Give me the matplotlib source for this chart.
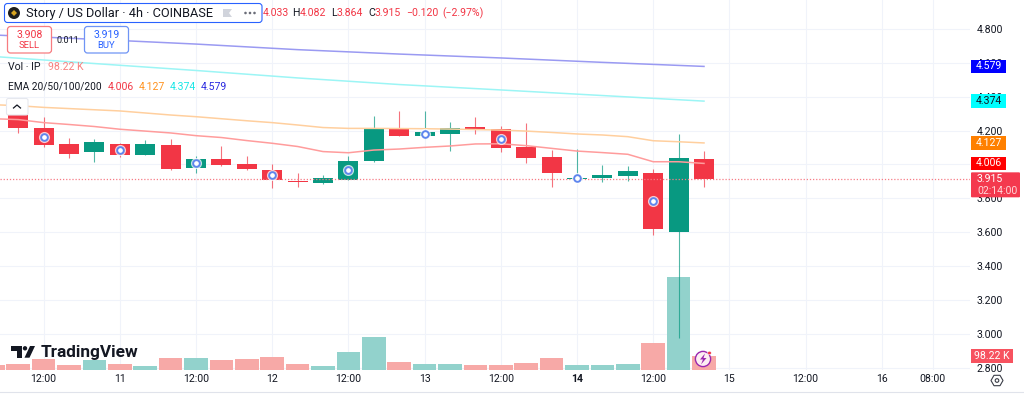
import matplotlib
matplotlib.use('Agg')
import matplotlib.pyplot as plt
from matplotlib.patches import FancyBboxPatch, Rectangle, Polygon, Circle, RegularPolygon

plt.rcParams['font.family'] = ['Roboto', 'DejaVu Sans']

#----- data
idx = list(range(28))
opens = [4.292, 4.215, 4.119, 4.072, 4.122, 4.057, 4.113, 3.981, 4.032, 4.003, 3.969, 3.902, 3.890, 3.908,
         4.022, 4.209, 4.168, 4.182, 4.219, 4.208, 4.103, 4.046, 3.916, 3.918, 3.932, 3.949, 3.601, 4.033]
highs = [4.322, 4.280, 4.156, 4.152, 4.124, 4.143, 4.150, 4.050, 4.109, 4.050, 4.003, 3.949, 3.939, 4.052,
         4.286, 4.316, 4.316, 4.251, 4.280, 4.227, 4.247, 4.083, 4.093, 3.998, 3.993, 3.973, 4.180, 4.082]
lows = [4.187, 4.105, 4.038, 4.016, 4.042, 4.057, 3.965, 3.951, 3.993, 3.965, 3.861, 3.865, 3.883, 3.906,
        4.016, 4.168, 4.148, 4.081, 4.182, 4.072, 4.010, 3.868, 3.916, 3.898, 3.904, 3.581, 2.975, 3.864]
closes = [4.213, 4.115, 4.062, 4.133, 4.057, 4.119, 3.971, 4.032, 3.998, 3.971, 3.908, 3.894, 3.922, 4.022,
          4.213, 4.168, 4.190, 4.213, 4.205, 4.095, 4.038, 3.951, 3.922, 3.936, 3.959, 3.617, 4.036, 3.915]

vol_idx = list(range(-1, 28))
volumes = [29, 41, 74, 34, 70, 41, 22, 81, 81, 70, 74, 93, 36, 22, 122, 232, 57,
           41, 41, 34, 34, 45, 81, 34, 29, 36, 191, 660, 98.22]
vol_up = [False, False, False, False, True, False, True, False, True, False, False, False, False, True,
          True, True, False, True, True, False, False, False, False, True, True, True, False, True, False]

ema20_idx = list(range(-1, 28))
ema20 = [4.270, 4.265, 4.247, 4.236, 4.224, 4.208, 4.197, 4.186, 4.170, 4.159, 4.141, 4.125, 4.106, 4.076, 4.069,
         4.085, 4.091, 4.101, 4.109, 4.121, 4.122, 4.111, 4.095, 4.079, 4.070, 4.060, 4.016, 4.016, 4.006]
ema50 = [4.353, 4.347, 4.337, 4.330, 4.323, 4.316, 4.304, 4.292, 4.282, 4.270, 4.258, 4.247, 4.233, 4.218, 4.213,
         4.213, 4.212, 4.211, 4.209, 4.206, 4.203, 4.197, 4.189, 4.180, 4.174, 4.164, 4.140, 4.134, 4.127]
slow_idx = [-1, 3, 7, 11, 15, 19, 23, 27]
ema100 = [4.638, 4.596, 4.555, 4.511, 4.472, 4.440, 4.407, 4.374]
ema200 = [4.765, 4.739, 4.711, 4.678, 4.652, 4.629, 4.603, 4.579]

event_idx = [1, 4, 7, 10, 13, 16, 19, 22, 25]
event_price = [4.164, 4.087, 4.007, 3.938, 3.969, 4.180, 4.150, 3.920, 3.786]

price_ticks = [2.8, 3.0, 3.2, 3.4, 3.6, 3.8, 4.0, 4.2, 4.4, 4.6, 4.8]
time_ticks = [1, 4, 7, 10, 13, 16, 19, 22, 25, 28, 31, 34, 36]
time_labels = ['12:00', '11', '12:00', '12', '12:00', '13', '12:00', '14', '12:00', '15', '12:00', '16', '08:00']

last_price = 3.915
ema_last = [4.579, 4.374, 4.127, 4.006]

RED = '#f23645'
GREEN = '#089981'
TXT = '#131722'
W, H = 1024, 396
XLIM = (-18.2/25.4, (970-18.2)/25.4)
YLIM = (4.8-340.5/169.3, 4.8+29/169.3)

fig = plt.figure(figsize=(W/100, H/100), dpi=100, facecolor='white')
pos = [0, (H-369.5)/H, 970/W, 369.5/H]

#----- grid on its own axes, under the volume
ax_bg = fig.add_axes(pos, zorder=0)
ax_bg.set_xlim(XLIM)
ax_bg.set_ylim(YLIM)
ax_bg.set_yticks(price_ticks)
ax_bg.set_xticks(time_ticks)
ax_bg.tick_params(length=0, labelleft=False, labelbottom=False)
ax_bg.grid(color='#f0f3fa', lw=0.8)
for s in ax_bg.spines.values():
    s.set_visible(False)

#----- volume
ax_vol = fig.add_axes(pos, zorder=1)
ax_vol.bar(vol_idx, volumes, width=0.93, color=['#92d2cc' if u else '#f7a9a7' for u in vol_up])
ax_vol.set_xlim(XLIM)
ax_vol.set_ylim(0, 2649)
ax_vol.axis('off')

#----- candles
ax = fig.add_axes(pos, zorder=2)
ax.patch.set_visible(False)
for i, o, h, l, c in zip(idx, opens, highs, lows, closes):
    col = GREEN if c >= o else RED
    ax.vlines(i, l, h, color=col, lw=0.8, alpha=0.7, zorder=3)
    ax.bar(i, abs(c-o), bottom=min(o, c), width=0.79, color=col, zorder=4)

ax.plot(ema20_idx, ema20, color='#ff9c9c', lw=1.1, zorder=5)
ax.plot(ema20_idx, ema50, color='#ffcf9e', lw=1.1, zorder=5)
ax.plot(slow_idx, ema100, color='#9cf5f5', lw=1.1, zorder=5)
ax.plot(slow_idx, ema200, color='#9a9af2', lw=1.1, zorder=5)
ax.axhline(last_price, color='#f77c86', lw=0.9, ls=(0, (1, 1.5)), zorder=5)

ax.plot(event_idx, event_price, 'o', ms=8, mfc='white', mec='none', alpha=0.75, zorder=6)
ax.plot(event_idx, event_price, 'o', ms=4.8, mfc='white', mec='#5f86ee', mew=1.4, zorder=7)

ax.set_xlim(XLIM)
ax.set_ylim(YLIM)
ax.yaxis.tick_right()
ax.set_yticks(price_ticks, ['%.3f' % p for p in price_ticks])
ax.set_xticks(time_ticks, time_labels)
ax.tick_params(length=0, labelsize=7.6, labelcolor=TXT)
ax.tick_params(axis='y', pad=5)
ax.tick_params(axis='x', pad=3.5)
ax.get_xticklabels()[7].set_fontweight('bold')
for s in ax.spines.values():
    s.set_visible(False)

#----- overlay in screen pixels for the TradingView furniture
ov = fig.add_axes([0, 0, 1, 1], zorder=3)
ov.set_xlim(0, W)
ov.set_ylim(H, 0)
ov.axis('off')

def price_y(p):
    return H - ax.transData.transform((0, p))[1]

def box(x0, y0, x1, y1, fc='white', ec='none', lw=1, r=2):
    ov.add_patch(FancyBboxPatch((x0, y0), x1-x0, y1-y0, boxstyle='round,pad=0,rounding_size=%g' % r,
                                fc=fc, ec=ec, lw=lw))

def label(x, y, s, color=TXT, size=7.6, ha='left', **kw):
    ov.text(x, y, s, color=color, fontsize=size, ha=ha, va='center', **kw)

ov.plot([0, W], [392, 392], color='#e0e3eb', lw=0.8)

# header
ohlc_bits = [(263, '4.033', RED), (292, 'H', TXT), (300, '4.082', RED), (331, 'L', TXT), (337, '3.864', RED),
             (368, 'C', TXT), (375, '3.915', RED), (406, '−0.120', RED), (442, '(−2.97%)', RED)]
for x, s, c in ohlc_bits:
    label(x, 13, s, color=c)
box(4.5, 3.5, 262, 22.5, ec='#2962ff', lw=0.8, r=3)
ov.add_patch(Circle((14, 13), 6, fc='#1e1e1e', ec='none'))
ov.add_patch(RegularPolygon((14, 13), 4, radius=3, fc='#d9a520', ec='none'))
label(26, 13, 'Story / US Dollar · 4h · COINBASE', size=9.15)
ov.add_patch(Polygon([(223, 9), (232, 9), (229, 13), (232, 17), (223, 17)], fc='#d1d4dc', ec='none'))
for x in (245.5, 250, 254.5):
    ov.add_patch(Circle((x, 13), 1.3, fc='#6a6d78', ec='none'))

# sell / buy
box(7.5, 26.5, 51.5, 53, ec='#f77c80', lw=0.9, r=3)
label(29.5, 34.5, '3.908', color=RED, ha='center')
label(29.5, 46, 'SELL', color=RED, size=6.8, ha='center')
label(68, 40.5, '0.011', size=6.5, ha='center')
box(84.5, 26.5, 128.5, 53, ec='#6f94f5', lw=0.9, r=3)
label(106.5, 34.5, '3.919', color='#2962ff', ha='center')
label(106.5, 46, 'BUY', color='#2962ff', size=6.8, ha='center')

# study legends
label(8, 67, 'Vol · IP')
label(48, 67, '98.22 K', color='#f7817f')
label(8, 86.5, 'EMA 20/50/100/200', size=7.3)
for x, s, c in [(108, '4.006', RED), (139, '4.127', '#ff9320'), (170, '4.374', '#19e6e6'), (201, '4.579', '#2a2ae0')]:
    label(x, 86.5, s, color=c)

# collapse button
box(6.5, 98.5, 28, 115, ec='#e6e8ee', lw=0.8, r=2)
ov.plot([13.5, 17, 20.5], [108, 105, 108], color=TXT, lw=0.9)

# price tags: the 4.600 and 4.400 tick labels stay visible just above their tags, as in the reference
tag_styles = [('#0000ff', 'white'), ('#00ffff', TXT), ('#ff8000', 'white'), ('#ff0000', 'white')]
for p, (fc, tc) in zip(ema_last, tag_styles):
    y = price_y(p)
    ov.add_patch(Rectangle((971, y-6.8), 35, 13.6, fc=fc, ec='none'))
    label(988.5, y, '%.3f' % p, color=tc, ha='center')
y = price_y(last_price)
box(971, y-6.5, 1020, y+18.5, fc='#f4394e', r=1)
label(977, y, '%.3f' % last_price, color='white')
label(977, y+12, '02:14:00', color='#ffd5d8')
ov.add_patch(Rectangle((971, 349), 42, 13.5, fc='#f7525f', ec='none'))
label(992, 355.8, '98.22 K', color='white', ha='center')

# logo
ov.add_patch(Polygon([(10.7, 346), (22, 346), (22, 357.7), (17, 357.7), (17, 350.5), (10.7, 350.5)], fc=TXT, ec='none'))
ov.add_patch(Circle((25, 348.3), 2.2, fc=TXT, ec='none'))
ov.add_patch(Polygon([(30, 346), (35, 346), (29.5, 357.7), (24.5, 357.7)], fc=TXT, ec='none'))
label(41, 352, 'TradingView', size=12.4, fontweight='bold')

# lightning badge
ov.add_patch(Circle((703, 359), 7.6, fc='#fdeef2', ec='#9c27b0', lw=1))
ov.add_patch(Polygon([(705, 353.5), (700, 359.5), (703, 359.5), (701, 364.5), (706.5, 358), (703.5, 358)], fc='#9c27b0', ec='none'))
ov.add_patch(Circle((709.5, 353), 1.8, fc='#f23645', ec='white', lw=0.4))

# settings gear
ov.add_patch(RegularPolygon((997, 380.5), 6, radius=6, orientation=0.52, fc='none', ec='#3a3d47', lw=0.8))
ov.add_patch(Circle((997, 380.5), 1.8, fc='none', ec='#3a3d47', lw=0.8))

plt.savefig('out.png', dpi=100)
